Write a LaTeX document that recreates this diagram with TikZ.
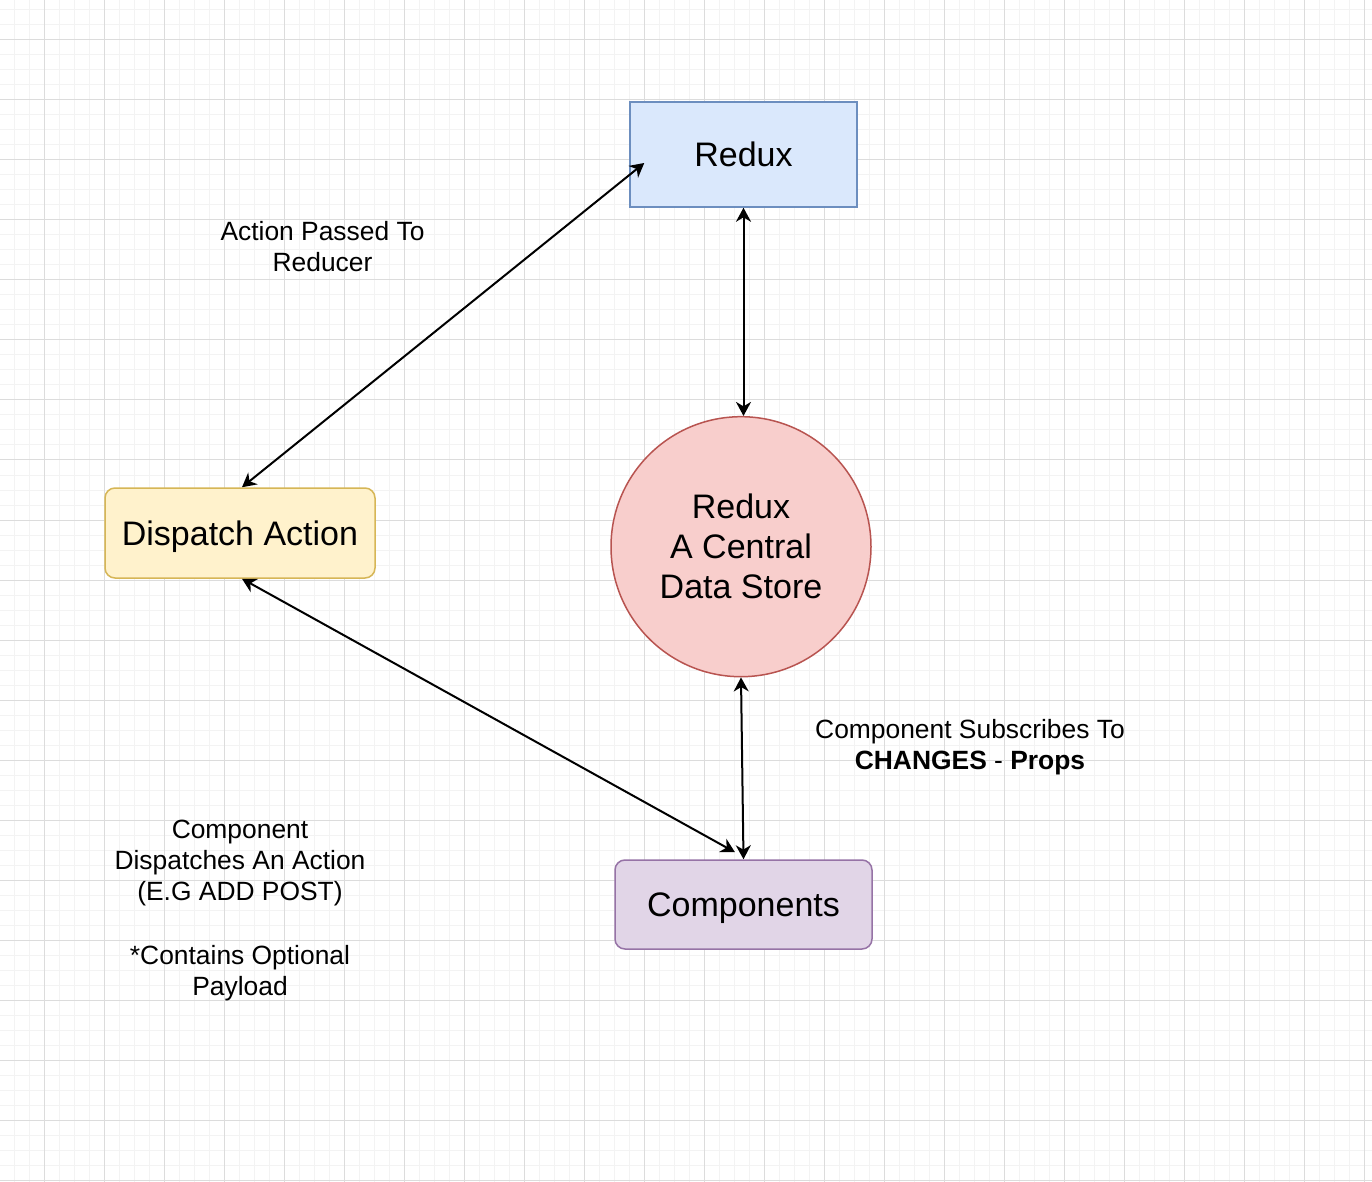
\documentclass[tikz,border=0pt]{standalone}
\usepackage{fontspec}
\setmainfont{Liberation Sans}
\usetikzlibrary{arrows.meta,calc}
\definecolor{gminor}{HTML}{F3F3F3}
\definecolor{gmajor}{HTML}{DCDCDC}
\definecolor{bluefill}{HTML}{DAE8FC}
\definecolor{bluestroke}{HTML}{6C8EBF}
\definecolor{yelfill}{HTML}{FFF2CC}
\definecolor{yelstroke}{HTML}{D6B656}
\definecolor{redfill}{HTML}{F8CECC}
\definecolor{redstroke}{HTML}{B85450}
\definecolor{purfill}{HTML}{E1D5E7}
\definecolor{purstroke}{HTML}{9673A6}
\begin{document}
\begin{tikzpicture}[x=0.5pt,y=-0.5pt,
  bigtext/.style={font=\fontsize{17}{20}\selectfont, align=center, text=black},
  lbl/.style={font=\fontsize{13.2}{15.5}\selectfont, align=center, text=black, inner sep=0pt},
  shapebox/.style={bigtext, line width=0.75pt, inner sep=0pt},
  oneline/.style={text height=12.4pt, text depth=0pt},
  conn/.style={line width=1pt, {Stealth[length=7pt,width=7.5pt,inset=2.2pt]}-{Stealth[length=7pt,width=7.5pt,inset=2.2pt]}}
]
\useasboundingbox (0,0) rectangle (1372,1182);
\fill[white] (0,0) rectangle (1372,1182);
% grid
\foreach \x in {14,29,...,1364} \draw[gminor,line width=0.5pt] (\x,0) -- (\x,1182);
\foreach \y in {10,25,...,1180} \draw[gminor,line width=0.5pt] (0,\y) -- (1372,\y);
\foreach \x in {44,104,...,1364} \draw[gmajor,line width=0.5pt] (\x,0) -- (\x,1182);
\foreach \y in {40,100,...,1180} \draw[gmajor,line width=0.5pt] (0,\y) -- (1372,\y);

% nodes
\node[shapebox, oneline, draw=bluestroke, fill=bluefill, minimum width=113.5pt, minimum height=52.5pt] (redux) at (743.5,154.5) {Redux};
\node[shapebox, oneline, draw=yelstroke, fill=yelfill, rounded corners=5pt, minimum width=135pt, minimum height=45pt] (disp) at (240,533) {Dispatch Action};
\node[shapebox, circle, draw=redstroke, fill=redfill, minimum size=130pt] (store) at (741,546.7) {Redux\\A Central\\Data Store};
\node[shapebox, oneline, draw=purstroke, fill=purfill, rounded corners=5pt, minimum width=128.5pt, minimum height=44.5pt] (comp) at (743.5,904.5) {Components};

% labels
\node[lbl] (lab1) at (322.5,246.5) {Action Passed To\\Reducer};
\node[lbl] (lab2) at (970,747.5) {Component Subscribes To\\\textbf{CHANGES} - \textbf{Props}};
\node[lbl] (lab3) at (240,910.5) {Component\\Dispatches An Action\\(E.G ADD POST)\\[16.5pt]*Contains Optional\\Payload};

% connectors
\draw[conn] ([xshift=1pt]disp.north) -- ($(redux.west)+(15,8.5)$);
\draw[conn] (redux.south) -- (redux.south |- store.north);
\draw[conn] (store.south) -- (comp.north);
\draw[conn] ([xshift=1pt]disp.south) -- ($(comp.north)+(-8.5,-7)$);
\end{tikzpicture}
\end{document}
